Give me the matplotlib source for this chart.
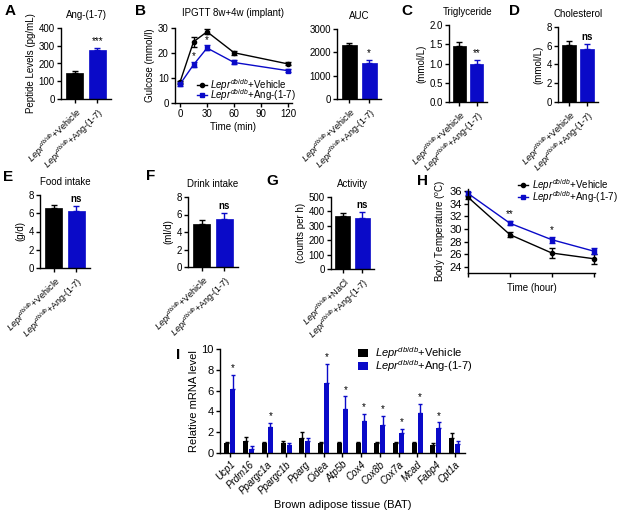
import numpy as np
import matplotlib
matplotlib.use("Agg")
import matplotlib.pyplot as plt
from matplotlib.lines import Line2D
from matplotlib.patches import Rectangle

plt.rcParams['font.family'] = ['Liberation Sans', 'DejaVu Sans']
plt.rcParams['mathtext.fontset'] = 'custom'
plt.rcParams['mathtext.rm'] = 'Liberation Sans'
plt.rcParams['mathtext.it'] = 'Liberation Sans:italic'
plt.rcParams['mathtext.bf'] = 'Liberation Sans:bold'
plt.rcParams['axes.linewidth'] = 1.0
plt.rcParams['xtick.major.width'] = 1.0
plt.rcParams['ytick.major.width'] = 1.0
plt.rcParams['xtick.major.size'] = 3
plt.rcParams['ytick.major.size'] = 3
plt.rcParams['xtick.major.pad'] = 1.5
plt.rcParams['ytick.major.pad'] = 1.5

BLACK = '#000000'
BLUE = '#0a0ac8'

VEH = r'$\mathit{Lepr}^{\mathit{db/db}}$+Vehicle'
ANG = r'$\mathit{Lepr}^{\mathit{db/db}}$+Ang-(1-7)'
NACL = r'$\mathit{Lepr}^{\mathit{db/db}}$+NaCl'

# --- data ---
pep_vals = [145, 275]
pep_errs = [15, 12]

gtt_time = [0, 15, 30, 60, 120]
gtt_veh = [8.3, 24.5, 28.5, 20.1, 15.6]
gtt_veh_err = [0.6, 2.0, 1.0, 0.8, 0.6]
gtt_ang = [7.5, 15.3, 22.0, 16.2, 12.9]
gtt_ang_err = [0.6, 1.0, 1.0, 0.8, 0.6]

auc_vals = [2330, 1530]
auc_errs = [70, 150]

tg_vals = [1.45, 1.0]
tg_errs = [0.1, 0.08]

chol_vals = [6.1, 5.7]
chol_errs = [0.45, 0.5]

food_vals = [6.6, 6.25]
food_errs = [0.35, 0.5]

drink_vals = [4.9, 5.5]
drink_errs = [0.5, 0.7]

act_vals = [370, 355]
act_errs = [20, 40]

temp_time = [0, 1, 2, 3]
temp_veh = [35.0, 29.1, 26.2, 25.3]
temp_veh_err = [0.2, 0.4, 0.8, 0.8]
temp_ang = [35.6, 30.9, 28.3, 26.5]
temp_ang_err = [0.2, 0.3, 0.5, 0.5]

genes = ['Ucp1', 'Prdm16', 'Ppargc1a', 'Ppargc1b', 'Pparg', 'Cidea', 'Atp5b',
         'Cox4', 'Cox8b', 'Cox7a', 'Mcad', 'Fabp4', 'Cpt1a']
gene_veh = [1.0, 1.15, 1.0, 1.0, 1.45, 1.0, 1.0, 1.0, 1.0, 1.0, 1.0, 0.8, 1.45]
gene_veh_err = [0.1, 0.35, 0.1, 0.15, 0.6, 0.1, 0.05, 0.05, 0.1, 0.1, 0.05, 0.2, 0.5]
gene_ang = [6.2, 0.4, 2.5, 0.8, 1.15, 6.7, 4.25, 3.05, 2.65, 1.9, 3.8, 2.4, 0.85]
gene_ang_err = [1.3, 0.25, 0.4, 0.2, 0.3, 1.9, 1.2, 0.7, 0.95, 0.45, 0.95, 0.55, 0.35]
gene_sig = ['*', '', '*', '', '', '*', '*', '*', '*', '*', '*', '*', '']

W, H = 617, 513
fig = plt.figure(figsize=(W / 100, H / 100), dpi=100)


def rect(x0, y0, x1, y1):
    return [x0 / W, 1 - y1 / H, (x1 - x0) / W, (y1 - y0) / H]


def fx(x):
    return x / W


def fy(y):
    return 1 - y / H


def style(ax):
    ax.spines['top'].set_visible(False)
    ax.spines['right'].set_visible(False)
    ax.tick_params(labelsize=7)


def line_legend(x0, y0, dy, labels, fs=7, hl=10, gap=3):
    # small legend drawn by hand so the rows sit as close as in the original
    specs = [(BLACK, 'o', 3), (BLUE, 's', 3.5)]
    for i, (lab, (c, m, ms)) in enumerate(zip(labels, specs)):
        y = y0 + i * dy
        fig.add_artist(Line2D([fx(x0), fx(x0 + hl)], [fy(y), fy(y)],
                              color=c, lw=1))
        fig.add_artist(Line2D([fx(x0 + hl / 2)], [fy(y)], color=c, marker=m,
                              markersize=ms, lw=0))
        fig.text(fx(x0 + hl + gap), fy(y), lab, fontsize=fs, va='center', ha='left')


def bar_panel(box, vals, errs, title, ylim, yticks, ylabel, sig, labels,
              fmt=None, width=0.75, sig_bold=False):
    ax = fig.add_axes(rect(*box))
    style(ax)
    x = np.arange(2)
    cols = [BLACK, BLUE]
    ax.bar(x, vals, width=width, color=cols, edgecolor=cols, linewidth=0.5)
    for xi, v, e, c in zip(x, vals, errs, cols):
        ax.errorbar(xi, v, yerr=[[0], [e]], fmt='none', ecolor=c,
                    elinewidth=1, capsize=2.5, capthick=1)
    ax.set_xlim(-0.6, 1.6)
    ax.set_ylim(*ylim)
    ax.set_yticks(yticks)
    if fmt:
        ax.set_yticklabels([fmt % t for t in yticks])
    ax.set_xticks(x)
    ax.set_xticklabels(labels, rotation=45, ha='right', rotation_mode='anchor',
                       fontsize=6.5)
    ax.set_title(title, fontsize=7, pad=7)
    if ylabel:
        ax.set_ylabel(ylabel, fontsize=7, labelpad=2)
    if sig:
        top = vals[1] + errs[1] + (ylim[1] - ylim[0]) * 0.03
        ax.text(1, top, sig, ha='center', va='bottom', fontsize=7,
                fontweight='bold' if sig_bold else 'normal')
    return ax


# A
bar_panel((61, 28, 111, 99), pep_vals, pep_errs, 'Ang-(1-7)', (0, 400),
          [0, 100, 200, 300, 400], 'Peptide Levels (pg/mL)', '***', [VEH, ANG])

# B
axb = fig.add_axes(rect(175, 28, 292, 103))
style(axb)
axb.errorbar(gtt_time, gtt_veh, yerr=gtt_veh_err, color=BLACK, marker='o',
             markersize=3, lw=1, capsize=2, elinewidth=1, clip_on=False)
axb.errorbar(gtt_time, gtt_ang, yerr=gtt_ang_err, color=BLUE, marker='s',
             markersize=3.5, lw=1, capsize=2, elinewidth=1, clip_on=False)
for t, v, e in zip(gtt_time[1:3], gtt_ang[1:3], gtt_ang_err[1:3]):
    axb.text(t, v + e + 0.3, '*', ha='center', va='bottom', fontsize=7)
axb.set_xlim(-5.5, 124)
axb.set_ylim(0, 30)
axb.set_xticks([0, 30, 60, 90, 120])
axb.set_yticks([0, 10, 20, 30])
axb.set_xlabel('Time (min)', fontsize=7, labelpad=2)
axb.set_ylabel('Gulcose (mmol/l)', fontsize=7, labelpad=2)
axb.set_title('IPGTT 8w+4w (implant)', fontsize=7, pad=9)
line_legend(197, 85, 10, [VEH, ANG], fs=7, hl=10, gap=3)

# AUC
bar_panel((337, 29, 381, 99), auc_vals, auc_errs, 'AUC', (0, 3000),
          [0, 1000, 2000, 3000], None, '*', [VEH, ANG])

# C
bar_panel((449, 25, 487, 102), tg_vals, tg_errs, 'Triglyceride', (0, 2.0),
          [0, 0.5, 1.0, 1.5, 2.0], '(mmol/L)', '**', [VEH, ANG], fmt='%.1f')

# D
bar_panel((558, 27, 598, 102), chol_vals, chol_errs, 'Cholesterol', (0, 8),
          [0, 2, 4, 6, 8], '(mmol/L)', 'ns', [VEH, ANG], sig_bold=True)

# E
bar_panel((40, 195, 90, 268), food_vals, food_errs, 'Food intake', (0, 8),
          [0, 2, 4, 6, 8], '(g/d)', 'ns', [VEH, ANG], sig_bold=True)

# F
bar_panel((188, 197, 238, 267), drink_vals, drink_errs, 'Drink intake', (0, 8),
          [0, 2, 4, 6, 8], '(ml/d)', 'ns', [VEH, ANG], sig_bold=True)

# G
bar_panel((331, 197, 374, 269), act_vals, act_errs, 'Activity', (0, 500),
          [0, 100, 200, 300, 400, 500], '(counts per h)', 'ns', [NACL, ANG],
          sig_bold=True)

# H
axh = fig.add_axes(rect(468, 189, 595, 273))
style(axh)
axh.errorbar(temp_time, temp_veh, yerr=temp_veh_err, color=BLACK, marker='o',
             markersize=3, lw=1, capsize=2, elinewidth=1, clip_on=False)
axh.errorbar(temp_time, temp_ang, yerr=temp_ang_err, color=BLUE, marker='s',
             markersize=3.5, lw=1, capsize=2, elinewidth=1, clip_on=False)
axh.text(1, temp_ang[1] + temp_ang_err[1] + 0.3, '**', ha='center', va='bottom', fontsize=7)
axh.text(2, temp_ang[2] + temp_ang_err[2] + 0.3, '*', ha='center', va='bottom', fontsize=7)
axh.set_xlim(0, 3.03)
axh.set_ylim(23.05, 36.3)
axh.set_yticks([24, 26, 28, 30, 32, 34, 36])
axh.set_xticks(temp_time)
axh.set_xticklabels([])
axh.tick_params(labelsize=8)
axh.set_xlabel('Time (hour)', fontsize=7, labelpad=3)
axh.set_ylabel('Body Temperature ($^o$C)', fontsize=7, labelpad=1)
line_legend(518, 185, 12, [VEH, ANG], fs=7, hl=10, gap=4)

# I
axi = fig.add_axes(rect(220, 349, 465, 453))
style(axi)
xg = np.arange(len(genes))
bw = 0.27
axi.bar(xg - 0.16, gene_veh, width=bw, color=BLACK)
axi.bar(xg + 0.16, gene_ang, width=bw, color=BLUE)
axi.errorbar(xg - 0.16, gene_veh, yerr=[np.zeros(len(genes)), gene_veh_err],
             fmt='none', ecolor=BLACK, elinewidth=1, capsize=1.5)
axi.errorbar(xg + 0.16, gene_ang, yerr=[np.zeros(len(genes)), gene_ang_err],
             fmt='none', ecolor=BLUE, elinewidth=1, capsize=1.5)
for xi, v, e, s in zip(xg, gene_ang, gene_ang_err, gene_sig):
    if s:
        axi.text(xi + 0.16, v + e + 0.15, s, ha='center', va='bottom', fontsize=7)
axi.set_xlim(-0.53, 12.55)
axi.set_ylim(0, 10)
axi.set_yticks([0, 2, 4, 6, 8, 10])
axi.set_xticks(xg)
axi.set_xticklabels(genes, rotation=45, ha='right', rotation_mode='anchor',
                    fontsize=7, style='italic')
axi.tick_params(axis='y', labelsize=8)
axi.set_xlabel('Brown adipose tissue (BAT)', fontsize=8, labelpad=3)
axi.set_ylabel('Relative mRNA level', fontsize=8, labelpad=2)
for i, (lab, c) in enumerate(zip([VEH, ANG], [BLACK, BLUE])):
    y = 353 + i * 13
    fig.add_artist(Rectangle((fx(358), fy(y + 4)), 10 / W, 8 / H,
                             facecolor=c, edgecolor='none'))
    fig.text(fx(375), fy(y), lab, fontsize=8, va='center', ha='left')

# panel letters
for lab, x, y in [('A', 10, 11), ('B', 141, 11), ('C', 407, 11), ('D', 514, 11),
                  ('E', 8, 177), ('F', 151, 176), ('G', 272, 181), ('H', 422, 181),
                  ('I', 178, 355)]:
    fig.text(x / W, 1 - y / H, lab, fontsize=11, fontweight='bold',
             ha='center', va='center')

fig.savefig('out.png', dpi=100)
